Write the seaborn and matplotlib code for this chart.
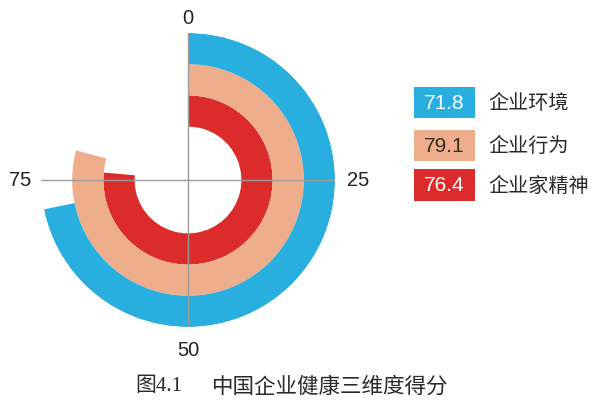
import numpy as np
import pandas as pd
import matplotlib
matplotlib.use("Agg")
import matplotlib.pyplot as plt
from matplotlib.patches import Rectangle
import seaborn as sns

# ---- data ----
categories = ["企业环境", "企业行为", "企业家精神"]
scores = [71.8, 79.1, 76.4]
colors = ["#29aee0", "#eeae8c", "#dc2b2b"]
value_text_colors = ["white", "#3a2a20", "white"]
angle_ticks = [0, 25, 50, 75]
caption_num = "图4.1"
caption_text = "中国企业健康三维度得分"

plt.rcParams["font.family"] = ["Noto Sans CJK SC", "DejaVu Sans"]
NUM_FONT = ["Liberation Sans", "DejaVu Sans"]

df = pd.DataFrame({"category": categories, "score": scores})
df["theta"] = np.deg2rad(df["score"] * 3.6)
ring_order = categories[::-1]  # innermost ring first
palette = dict(zip(categories, colors))

W, H = 600, 410
fig = plt.figure(figsize=(W / 100, H / 100), dpi=100)
cx, cy, R = 188, 181, 147
ax = fig.add_axes([(cx - R) / W, (H - cy - R) / H, 2 * R / W, 2 * R / H],
                  projection="polar")
ax.set_theta_zero_location("N")
ax.set_theta_direction(-1)

sns.barplot(data=df, x="theta", y="category", hue="category",
            order=ring_order, hue_order=ring_order, palette=palette,
            orient="h", width=1.0, errorbar=None, legend=False,
            saturation=1, linewidth=0, ax=ax)

ring_px = 31.0
rmin = -0.5 - 53 / ring_px
ax.set_ylim(rmin, 2.5)
ax.set_yticks([])
ax.set_xticks(np.deg2rad(np.array(angle_ticks) * 3.6))
ax.set_xticklabels([])
ax.xaxis.grid(True, color="#9c9c9c", linewidth=1.0)
ax.yaxis.grid(False)
ax.spines["polar"].set_visible(False)
ax.set_axisbelow(False)
ax.set_xlabel("")
ax.set_ylabel("")
ax.set_facecolor("none")

# angle labels placed just outside the rings
label_dist_px = [161, 169, 168, 167]
for t, d in zip(angle_ticks, label_dist_px):
    ax.text(np.deg2rad(t * 3.6), rmin + d / ring_px, str(t), ha="center",
            va="center", fontsize=14.5, color="#222222", fontfamily=NUM_FONT,
            clip_on=False)

# ---- legend (value boxes) ----
box_x0, box_x1 = 414, 475
box_rows = [(88, 119), (131, 162), (170, 202)]
for cat, val, col, tcol, (y0, y1) in zip(categories, scores, colors,
                                         value_text_colors, box_rows):
    fig.add_artist(Rectangle((box_x0 / W, 1 - y1 / H), (box_x1 - box_x0) / W,
                             (y1 - y0) / H, transform=fig.transFigure,
                             facecolor=col, edgecolor="none"))
    ymid = 1 - (y0 + y1) / 2 / H
    fig.text((box_x0 + box_x1) / 2 / W, ymid, f"{val}", ha="center",
             va="center", fontsize=15, color=tcol, fontfamily=NUM_FONT)
    fig.text(488 / W, ymid, cat, ha="left", va="center", fontsize=14.5,
             color="#2a2a2a")

# ---- caption ----
fig.text(135 / W, 1 - 387 / H, caption_num, ha="left", va="center",
         fontsize=15, color="#2a2a2a",
         fontfamily=["Liberation Serif", "Noto Sans CJK SC"])
fig.text(212 / W, 1 - 387 / H, caption_text, ha="left", va="center",
         fontsize=15.5, color="#2a2a2a")

fig.savefig("out.png", dpi=100, facecolor="white")
